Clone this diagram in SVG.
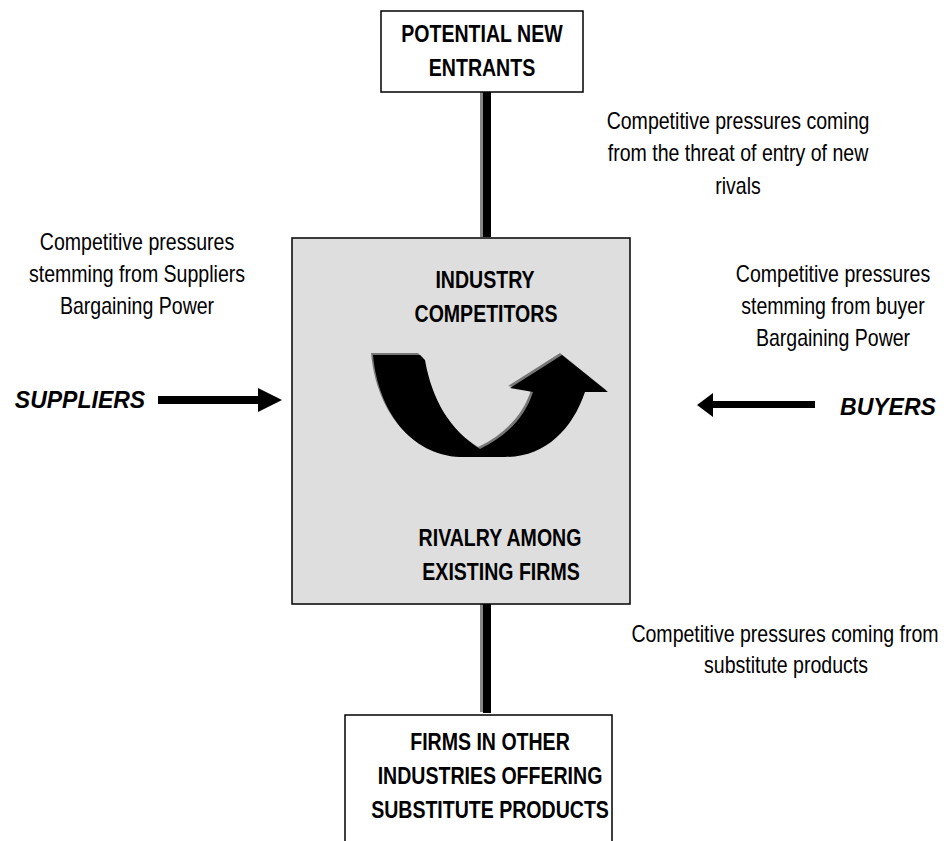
<svg xmlns="http://www.w3.org/2000/svg" width="952" height="841" viewBox="0 0 952 841">
<style>
.box{fill:#fff;stroke:#000;stroke-width:1.5}
.main{fill:#dedede;stroke:#000;stroke-width:1.5}
.t{font-family:"Liberation Sans",Arial,sans-serif;font-size:23px;fill:#000;text-anchor:middle}
.b{font-weight:bold}
.bi{font-family:"Liberation Sans",Arial,sans-serif;font-size:23px;font-weight:bold;font-style:italic;fill:#000;text-anchor:middle}
</style>
<rect width="952" height="841" fill="#fff"/>
<g id="connectors">
  <rect x="480" y="92" width="5" height="145" fill="#888"/>
  <rect x="483" y="92" width="8" height="145" fill="#000"/>
  <rect x="480" y="604" width="5" height="108" fill="#888"/>
  <rect x="483" y="604" width="8" height="109" fill="#000"/>
  <polygon points="158,396 258,396 258,388 282,400 258,412 258,404 158,404" fill="#000"/>
  <polygon points="815,401 713,401 713,393 697,405 713,417 713,408 815,408" fill="#000"/>
</g>
<g id="potential-new-entrants">
  <rect class="box" x="381" y="11" width="202" height="81"/>
  <text class="t b" transform="translate(482,42) scale(0.85,1)">POTENTIAL NEW</text>
  <text class="t b" transform="translate(482,76) scale(0.85,1)">ENTRANTS</text>
</g>
<g id="industry-competitors">
  <rect class="main" x="292" y="238" width="338" height="366"/>
  <text class="t b" transform="translate(485,288) scale(0.85,1)">INDUSTRY</text>
  <text class="t b" transform="translate(486,322) scale(0.85,1)">COMPETITORS</text>
  <path d="M373,355 L420,355 L425,360 C432,400 450,430 480,449 C505,437 525,418 533,392 L510,388 L562,355 L608,392 L585,392 C572,430 545,457 505,457 L460,457 C410,455 378,410 373,355 Z" fill="#777" transform="translate(-2,-2)"/>
  <path d="M373,355 L420,355 L425,360 C432,400 450,430 480,449 C505,437 525,418 533,392 L510,388 L562,355 L608,392 L585,392 C572,430 545,457 505,457 L460,457 C410,455 378,410 373,355 Z" fill="#000"/>
  <text class="t b" transform="translate(500,546) scale(0.85,1)">RIVALRY AMONG</text>
  <text class="t b" transform="translate(501,580) scale(0.85,1)">EXISTING FIRMS</text>
</g>
<g id="substitutes">
  <rect class="box" x="345" y="715" width="267" height="140"/>
  <text class="t b" transform="translate(490,750) scale(0.85,1)">FIRMS IN OTHER</text>
  <text class="t b" transform="translate(490,784) scale(0.85,1)">INDUSTRIES OFFERING</text>
  <text class="t b" transform="translate(490,818) scale(0.85,1)">SUBSTITUTE PRODUCTS</text>
</g>
<g id="suppliers">
  <text class="bi" x="80" y="408">SUPPLIERS</text>
</g>
<g id="buyers">
  <text class="bi" x="888" y="415">BUYERS</text>
</g>
<g id="labels">
  <text class="t" transform="translate(738,129) scale(0.85,1)">Competitive pressures coming</text>
  <text class="t" transform="translate(738,161) scale(0.85,1)">from the threat of entry of new</text>
  <text class="t" transform="translate(738,194) scale(0.85,1)">rivals</text>
  <text class="t" transform="translate(137,250) scale(0.85,1)">Competitive pressures</text>
  <text class="t" transform="translate(137,282) scale(0.85,1)">stemming from Suppliers</text>
  <text class="t" transform="translate(137,314) scale(0.85,1)">Bargaining Power</text>
  <text class="t" transform="translate(833,282) scale(0.85,1)">Competitive pressures</text>
  <text class="t" transform="translate(833,314) scale(0.85,1)">stemming from buyer</text>
  <text class="t" transform="translate(833,346) scale(0.85,1)">Bargaining Power</text>
  <text class="t" transform="translate(785,642) scale(0.85,1)">Competitive pressures coming from</text>
  <text class="t" transform="translate(786,673) scale(0.85,1)">substitute products</text>
</g>
</svg>
